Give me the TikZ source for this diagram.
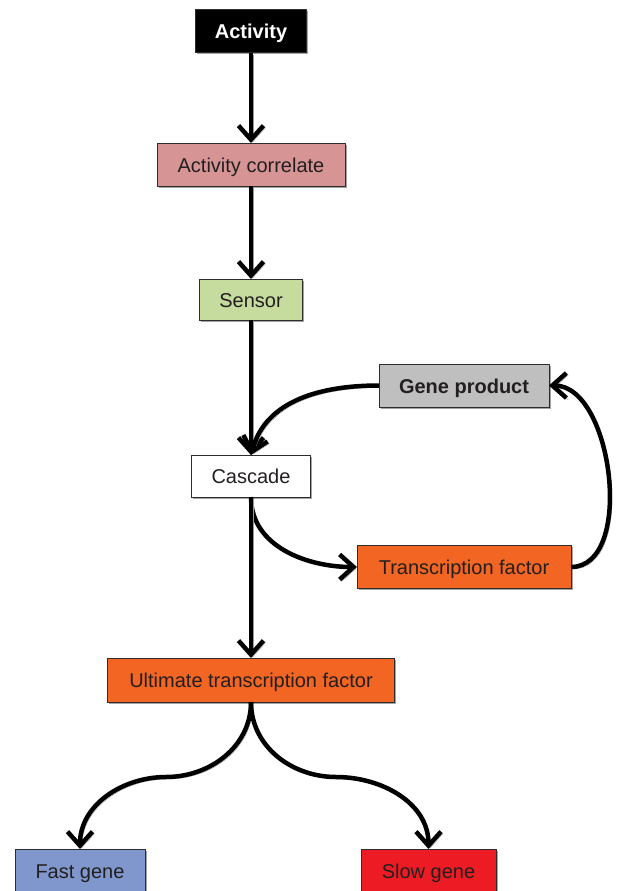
\documentclass[tikz,border=0pt]{standalone}
\usepackage{fontspec}
\setmainfont{Liberation Sans}
\usepackage{xcolor}
\usepackage{tikz}
\usetikzlibrary{arrows.meta, positioning, shadows}

\definecolor{inkgray}{RGB}{35,31,32}
\definecolor{boxline}{RGB}{45,45,45}
\definecolor{corrpink}{RGB}{215,148,148}
\definecolor{sensorgreen}{RGB}{197,220,158}
\definecolor{productgray}{RGB}{191,191,191}
\definecolor{tforange}{RGB}{242,101,34}
\definecolor{fastblue}{RGB}{127,151,204}
\definecolor{slowred}{RGB}{237,28,36}

\begin{document}
\begin{tikzpicture}[
    x=1pt, y=1pt,
    box/.style={draw=boxline, line width=1pt, rectangle, minimum height=43pt,
      inner sep=0pt, outer sep=0pt, align=center, text=inkgray, font=\fontsize{20}{24}\selectfont,
      text height=17pt, text depth=2pt,
      drop shadow={shadow xshift=1.5pt, shadow yshift=-1.5pt, fill=black!45, opacity=0.8}},
    arrow/.style={line width=4.5pt, -{Straight Barb[length=14pt,width=25pt]},
      preaction={draw=black!40, transform canvas={shift={(2pt,-2pt)}}}}
]
\useasboundingbox (0,0) rectangle (622,-891);

\node (act) [box, fill=black, text=white, minimum width=111pt, font=\fontsize{20}{24}\selectfont\bfseries] at (251,-31.5) {Activity};
\node (corr) [box, fill=corrpink, minimum width=188pt, below=90pt of act] {Activity correlate};
\node (sensor) [box, fill=sensorgreen, minimum width=103pt, minimum height=41pt, below=93pt of corr] {Sensor};
\node (casc) [box, fill=white, minimum width=119pt, minimum height=42pt, below=135pt of sensor] {Cascade};
\node (ult) [box, fill=tforange, minimum width=287pt, minimum height=44pt, below=161pt of casc] {Ultimate transcription factor};
\node (gene) [box, fill=productgray, minimum width=170pt, font=\fontsize{20}{24}\selectfont\bfseries] at (464,-385.5) {Gene product};
\node (tf) [box, fill=tforange, minimum width=214pt] at (464,-567) {Transcription factor};
\node (fast) [box, fill=fastblue, minimum width=130pt] at (80,-870.5) {Fast gene};
\node (slow) [box, fill=slowred, minimum width=135pt] at (428.5,-870.5) {Slow gene};

\coordinate (fastbend) at (166,-777);
\coordinate (slowbend) at (336,-777);

\draw[arrow] (act) -- (corr);
\draw[arrow] (corr) -- (sensor);
\draw[arrow] (sensor) -- (casc);
\draw[arrow] (gene.west) to[out=180,in=75] (casc.north);
\draw[arrow] (casc.south) to[out=270,in=180] (tf.west);
\draw[arrow] (tf.east) to[out=0,in=0,looseness=0.9] (gene.east);
\draw[arrow] (casc) -- (ult);
\draw[arrow] (ult.south) to[out=270,in=0] (fastbend) to[out=180,in=90] (fast.north);
\draw[arrow] (ult.south) to[out=270,in=180] (slowbend) to[out=0,in=90] (slow.north);
\end{tikzpicture}
\end{document}
